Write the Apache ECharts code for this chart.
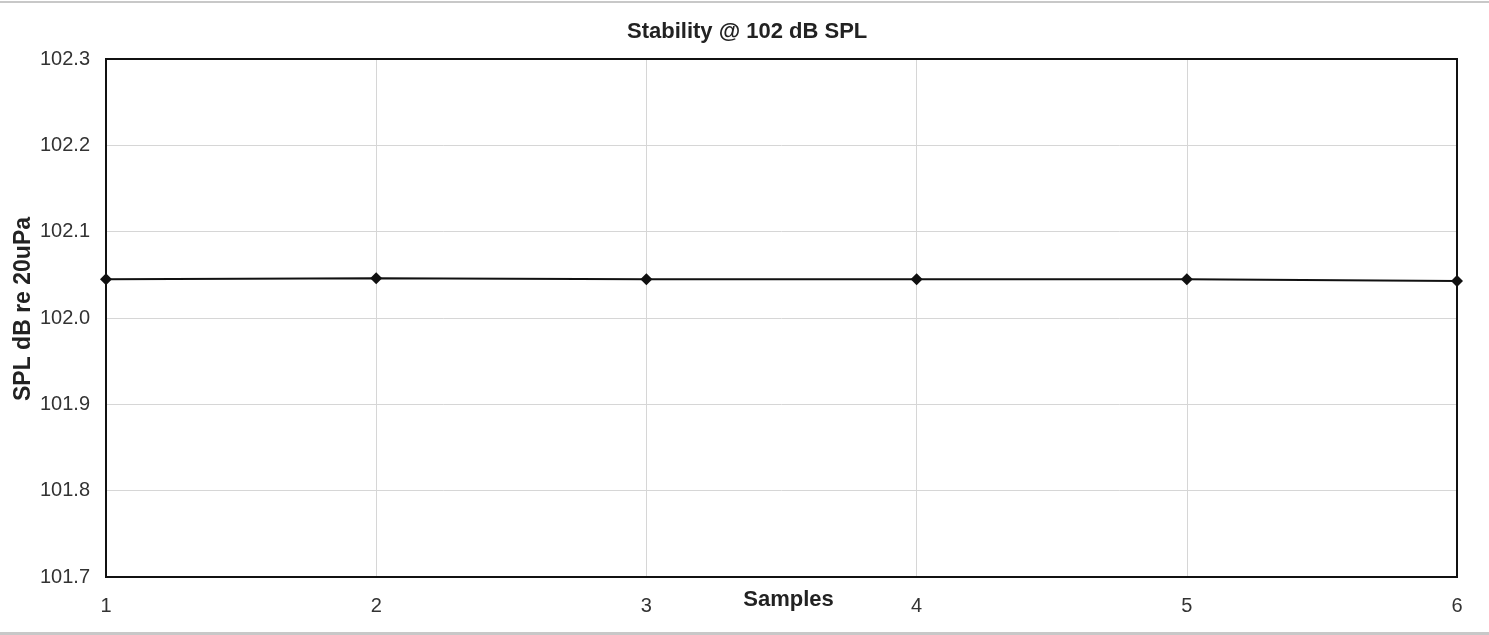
<!DOCTYPE html>
<html>
<head>
<meta charset="utf-8">
<script src="https://cdn.jsdelivr.net/npm/echarts@6/dist/echarts.min.js"></script>
<style>html,body{margin:0;padding:0;background:#fff}#c{width:1489px;height:635px}</style>
</head>
<body>
<div id="c"></div>
<script>
const samples = [1, 2, 3, 4, 5, 6];
const splValues = [102.045, 102.046, 102.045, 102.045, 102.045, 102.043];
const yTicks = [101.7, 101.8, 101.9, 102.0, 102.1, 102.2, 102.3];

const chart = echarts.init(document.getElementById('c'));
const font = 'Liberation Sans, Arial, sans-serif';
chart.setOption({
  animation: false,
  backgroundColor: '#fff',
  title: {
    text: 'Stability @ 102 dB SPL',
    left: 622, top: 16,
    textStyle: { fontFamily: font, fontSize: 22, fontWeight: 'bold', color: '#222' }
  },
  grid: { left: 106, right: 32, top: 59, bottom: 58, containLabel: false, outerBoundsMode: 'none', show: false },
  xAxis: {
    type: 'value', min: 1, max: 6, interval: 1,
    name: 'Samples', nameLocation: 'middle', nameGap: 12, nameMoveOverlap: false,
    nameTextStyle: { fontFamily: font, fontSize: 22, fontWeight: 'bold', color: '#222', padding: [0, 0, 0, 14], verticalAlign: 'top' },
    axisLine: { show: false }, axisTick: { show: false },
    axisLabel: { fontFamily: font, fontSize: 20, color: '#333', margin: 19 },
    splitLine: { show: true, lineStyle: { color: '#d6d6d6', width: 1 } }
  },
  yAxis: {
    type: 'value', min: 101.7, max: 102.3, interval: 0.1,
    axisLine: { show: false }, axisTick: { show: false },
    axisLabel: { fontFamily: font, fontSize: 20, color: '#333', margin: 16,
      formatter: v => { const t = yTicks.find(x => Math.abs(x - v) < 1e-6); return (t !== undefined ? t : v).toFixed(1); } },
    splitLine: { show: true, lineStyle: { color: '#d6d6d6', width: 1 } }
  },
  graphic: [
    { type: 'rect', shape: { x: 0, y: 1, width: 1489, height: 2 }, style: { fill: '#c8c8c8' }, silent: true },
    { type: 'rect', shape: { x: 0, y: 632, width: 1489, height: 3 }, style: { fill: '#c8c8c8' }, silent: true },
    { type: 'rect', shape: { x: 106, y: 59, width: 1351, height: 518 }, style: { fill: 'none', stroke: '#111', lineWidth: 2 }, silent: true, z: 1 },
    { type: 'text', x: 24, y: 309, rotation: Math.PI / 2, silent: true,
      style: { text: 'SPL dB re 20uPa', fontFamily: font, fontSize: 23, fontWeight: 'bold', fill: '#222', align: 'center', verticalAlign: 'middle' } }
  ],
  series: [{
    type: 'line',
    data: samples.map((s, i) => [s, splValues[i]]),
    symbol: 'diamond', symbolSize: 12,
    lineStyle: { color: '#111', width: 2 },
    itemStyle: { color: '#111' },
    clip: false, z: 5
  }]
});
</script>
</body>
</html>
